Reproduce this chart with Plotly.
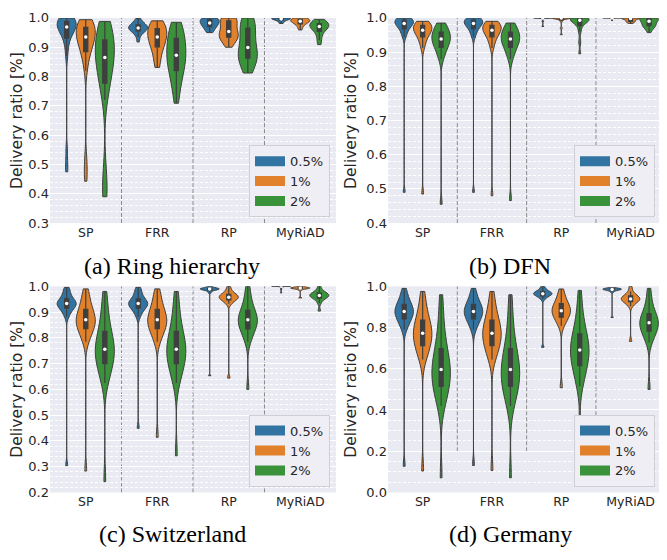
import numpy as np
import plotly.graph_objects as go

categories = ["SP", "FRR", "RP", "MyRiAD"]
hues = ["0.5%", "1%", "2%"]
captions = ["(a) Ring hierarchy", "(b) DFN", "(c) Switzerland", "(d) Germany"]
y_ranges = [[0.3, 1.0], [0.4, 1.0], [0.2, 1.0], [0.0, 1.0]]
y_dticks = [0.1, 0.1, 0.1, 0.2]
y_minor = [0.02, 0.02, 0.02, 0.05]

# ---- (a) Ring hierarchy: samples per method [SP, FRR, RP, MyRiAD] ----
ring_05 = [
    [1.0, 1.0, 0.998, 0.995, 0.992, 0.99, 0.988, 0.985, 0.98, 0.977, 0.974, 0.971, 0.969, 0.965, 0.96, 0.955, 0.95, 0.945, 0.935, 0.92, 0.9, 0.87, 0.55, 0.5, 0.475],
    [0.998, 0.99, 0.985, 0.98, 0.977, 0.975, 0.972, 0.97, 0.968, 0.966, 0.964, 0.962, 0.96, 0.957, 0.955, 0.95, 0.945, 0.935, 0.918],
    [1.0, 1.0, 0.998, 0.996, 0.993, 0.99, 0.987, 0.984, 0.981, 0.978, 0.975, 0.972, 0.968, 0.962, 0.955, 0.95],
    [1.0, 1.0, 1.0, 0.999, 0.998, 0.997, 0.996, 0.995, 0.993, 0.99, 0.986, 0.981],
]
ring_1 = [
    [0.994, 0.99, 0.985, 0.98, 0.975, 0.97, 0.968, 0.963, 0.958, 0.952, 0.946, 0.94, 0.937, 0.932, 0.925, 0.918, 0.91, 0.9, 0.895, 0.885, 0.87, 0.85, 0.82, 0.52, 0.48, 0.443],
    [0.99, 0.988, 0.98, 0.975, 0.97, 0.965, 0.96, 0.955, 0.95, 0.945, 0.94, 0.935, 0.93, 0.925, 0.92, 0.91, 0.905, 0.9, 0.89, 0.875, 0.86, 0.845, 0.831],
    [1.0, 1.0, 0.998, 0.995, 0.99, 0.985, 0.975, 0.965, 0.957, 0.95, 0.945, 0.94, 0.937, 0.934, 0.93, 0.925, 0.915, 0.9],
    [1.0, 0.998, 0.996, 0.993, 0.991, 0.99, 0.988, 0.985, 0.982, 0.978, 0.97, 0.959],
]
ring_2 = [
    [0.988, 0.98, 0.97, 0.96, 0.95, 0.94, 0.93, 0.92, 0.91, 0.9, 0.895, 0.885, 0.875, 0.87, 0.86, 0.85, 0.84, 0.83, 0.815, 0.8, 0.785, 0.77, 0.75, 0.72, 0.48, 0.43, 0.4, 0.39],
    [0.985, 0.975, 0.965, 0.955, 0.945, 0.935, 0.925, 0.915, 0.905, 0.895, 0.885, 0.875, 0.87, 0.865, 0.855, 0.845, 0.835, 0.825, 0.815, 0.8, 0.785, 0.765, 0.74, 0.709],
    [1.0, 0.998, 0.99, 0.98, 0.97, 0.96, 0.95, 0.935, 0.92, 0.905, 0.893, 0.885, 0.878, 0.872, 0.866, 0.86, 0.852, 0.842, 0.828, 0.812],
    [0.995, 0.99, 0.986, 0.982, 0.978, 0.975, 0.973, 0.971, 0.968, 0.964, 0.96, 0.952, 0.94, 0.925, 0.909],
]

# ---- (b) DFN ----
dfn_05 = [
    [1.0, 1.0, 0.998, 0.995, 0.993, 0.99, 0.988, 0.986, 0.984, 0.981, 0.978, 0.975, 0.97, 0.963, 0.955, 0.945, 0.49],
    [1.0, 1.0, 0.998, 0.995, 0.993, 0.99, 0.988, 0.986, 0.984, 0.981, 0.978, 0.975, 0.97, 0.963, 0.955, 0.945, 0.49],
    [1.0, 1.0, 1.0, 1.0, 1.0, 1.0, 1.0, 1.0, 0.999, 0.998, 0.99, 0.975],
    [1.0, 1.0, 1.0, 1.0, 1.0, 1.0, 1.0, 1.0, 1.0, 1.0, 0.999, 0.997, 0.993],
]
dfn_1 = [
    [0.99, 0.988, 0.985, 0.982, 0.979, 0.976, 0.973, 0.97, 0.967, 0.964, 0.961, 0.958, 0.955, 0.95, 0.943, 0.935, 0.925, 0.912, 0.485],
    [0.99, 0.988, 0.985, 0.982, 0.979, 0.976, 0.973, 0.97, 0.967, 0.964, 0.961, 0.958, 0.955, 0.95, 0.943, 0.935, 0.925, 0.912, 0.48],
    [1.0, 1.0, 1.0, 1.0, 1.0, 1.0, 1.0, 0.999, 0.998, 0.996, 0.99, 0.97, 0.951],
    [1.0, 1.0, 1.0, 1.0, 1.0, 1.0, 0.999, 0.998, 0.996, 0.992, 0.99, 0.989, 0.988, 0.984],
]
dfn_2 = [
    [0.985, 0.978, 0.972, 0.966, 0.96, 0.955, 0.95, 0.945, 0.941, 0.938, 0.935, 0.93, 0.925, 0.92, 0.912, 0.903, 0.893, 0.88, 0.455],
    [0.985, 0.978, 0.972, 0.966, 0.96, 0.955, 0.95, 0.945, 0.941, 0.938, 0.935, 0.93, 0.925, 0.92, 0.912, 0.903, 0.893, 0.88, 0.466],
    [1.0, 1.0, 1.0, 0.999, 0.998, 0.997, 0.995, 0.993, 0.99, 0.988, 0.985, 0.975, 0.96, 0.93, 0.895],
    [1.0, 1.0, 1.0, 0.999, 0.998, 0.997, 0.995, 0.99, 0.985, 0.98, 0.978, 0.977, 0.975, 0.968, 0.957],
]

# ---- (c) Switzerland ----
swiss_05 = [
    [0.996, 0.985, 0.975, 0.965, 0.955, 0.948, 0.944, 0.94, 0.937, 0.934, 0.932, 0.929, 0.926, 0.922, 0.918, 0.912, 0.904, 0.895, 0.882, 0.304],
    [0.996, 0.985, 0.975, 0.965, 0.955, 0.948, 0.944, 0.94, 0.937, 0.934, 0.932, 0.929, 0.926, 0.922, 0.918, 0.912, 0.904, 0.895, 0.882, 0.449],
    [1.0, 0.996, 0.993, 0.992, 0.991, 0.99, 0.99, 0.989, 0.988, 0.987, 0.985, 0.982, 0.975, 0.653],
    [1.0, 1.0, 1.0, 1.0, 1.0, 1.0, 1.0, 1.0, 1.0, 1.0, 0.999, 0.998, 0.99, 0.975],
]
swiss_1 = [
    [0.99, 0.97, 0.95, 0.935, 0.92, 0.908, 0.898, 0.89, 0.882, 0.875, 0.87, 0.865, 0.858, 0.852, 0.845, 0.838, 0.828, 0.815, 0.8, 0.785, 0.283],
    [0.99, 0.97, 0.95, 0.935, 0.92, 0.908, 0.898, 0.89, 0.882, 0.875, 0.87, 0.865, 0.858, 0.852, 0.845, 0.838, 0.828, 0.815, 0.8, 0.785, 0.414],
    [1.0, 0.985, 0.975, 0.97, 0.966, 0.963, 0.96, 0.958, 0.956, 0.953, 0.95, 0.946, 0.94, 0.932, 0.644],
    [1.0, 0.998, 0.996, 0.995, 0.994, 0.993, 0.993, 0.992, 0.991, 0.99, 0.985, 0.955],
]
swiss_2 = [
    [0.98, 0.94, 0.9, 0.87, 0.845, 0.825, 0.808, 0.795, 0.782, 0.77, 0.76, 0.752, 0.744, 0.735, 0.725, 0.713, 0.7, 0.685, 0.668, 0.648, 0.625, 0.242],
    [0.98, 0.94, 0.9, 0.87, 0.845, 0.825, 0.808, 0.795, 0.782, 0.77, 0.76, 0.752, 0.744, 0.735, 0.725, 0.713, 0.7, 0.685, 0.668, 0.648, 0.625, 0.342],
    [1.0, 0.97, 0.945, 0.925, 0.91, 0.9, 0.89, 0.882, 0.875, 0.87, 0.865, 0.858, 0.85, 0.842, 0.832, 0.82, 0.805, 0.785, 0.6],
    [1.0, 0.985, 0.978, 0.974, 0.971, 0.968, 0.966, 0.964, 0.962, 0.96, 0.957, 0.953, 0.947, 0.935, 0.904],
]

# ---- (d) Germany ----
germany_05 = [
    [0.99, 0.965, 0.945, 0.93, 0.918, 0.908, 0.9, 0.893, 0.886, 0.88, 0.875, 0.869, 0.862, 0.855, 0.847, 0.837, 0.825, 0.81, 0.79, 0.127],
    [0.99, 0.965, 0.945, 0.93, 0.918, 0.908, 0.9, 0.893, 0.886, 0.88, 0.875, 0.869, 0.862, 0.855, 0.847, 0.837, 0.825, 0.81, 0.79, 0.131],
    [1.0, 0.988, 0.98, 0.975, 0.971, 0.968, 0.966, 0.964, 0.962, 0.96, 0.957, 0.953, 0.947, 0.938, 0.704],
    [0.993, 0.99, 0.989, 0.988, 0.987, 0.986, 0.985, 0.984, 0.983, 0.981, 0.978, 0.972, 0.849],
]
germany_1 = [
    [0.975, 0.93, 0.895, 0.865, 0.845, 0.828, 0.812, 0.8, 0.788, 0.777, 0.768, 0.758, 0.747, 0.735, 0.72, 0.705, 0.688, 0.668, 0.645, 0.104],
    [0.975, 0.93, 0.895, 0.865, 0.845, 0.828, 0.812, 0.8, 0.788, 0.777, 0.768, 0.758, 0.747, 0.735, 0.72, 0.705, 0.688, 0.668, 0.645, 0.107],
    [0.987, 0.96, 0.94, 0.925, 0.913, 0.903, 0.895, 0.888, 0.882, 0.876, 0.87, 0.862, 0.853, 0.842, 0.827, 0.808, 0.508],
    [1.0, 0.975, 0.962, 0.955, 0.95, 0.946, 0.942, 0.939, 0.936, 0.933, 0.929, 0.924, 0.917, 0.905, 0.733],
]
germany_2 = [
    [0.959, 0.88, 0.81, 0.76, 0.72, 0.69, 0.665, 0.645, 0.627, 0.61, 0.596, 0.582, 0.567, 0.552, 0.537, 0.52, 0.5, 0.478, 0.452, 0.42, 0.071],
    [0.959, 0.88, 0.81, 0.76, 0.72, 0.69, 0.665, 0.645, 0.627, 0.61, 0.596, 0.582, 0.567, 0.552, 0.537, 0.52, 0.5, 0.478, 0.452, 0.42, 0.071],
    [0.98, 0.9, 0.85, 0.81, 0.78, 0.76, 0.742, 0.725, 0.71, 0.698, 0.685, 0.672, 0.658, 0.642, 0.625, 0.605, 0.58, 0.55, 0.515, 0.288],
    [0.99, 0.945, 0.91, 0.885, 0.868, 0.855, 0.845, 0.835, 0.827, 0.82, 0.812, 0.803, 0.793, 0.782, 0.768, 0.75, 0.728, 0.5],
]

panels = [
    [ring_05, ring_1, ring_2],
    [dfn_05, dfn_1, dfn_2],
    [swiss_05, swiss_1, swiss_2],
    [germany_05, germany_1, germany_2],
]

# ---- styling / layout ----
# the page body adds an 8px margin on every side; keep the page exactly 667x560
OFF = 8
W, H = 667 - 2 * OFF, 560 - 2 * OFF
colors = ["#3274A1", "#E1812C", "#3A923A"]
edge = "#3F3F3F"
txt = "#262626"
vw = 0.8 / 3
# subplot pixel boxes on the page: (left, right, top, bottom)
boxes = [(50, 336, 11, 222), (388, 659, 11, 222), (50, 336, 287, 499), (388, 659, 287, 499)]
x_upper = [3.5, 3.41, 3.5, 3.41]
legend_right = [330, 655, 330, 655]
cap_pos = [(172, 266), (510, 266), (172, 542), (510, 542)]


def px(v):
    return (v - OFF) / W


def py(v):
    return 1 - (v - OFF) / H


fig = go.Figure()
layout = dict(
    width=W, height=H, margin=dict(l=0, r=0, t=0, b=0),
    paper_bgcolor="white", plot_bgcolor="#EAEAF2",
    font=dict(family="DejaVu Sans", color=txt),
    showlegend=True, shapes=[], annotations=[],
    violingap=0, violingroupgap=0,
)

for p in range(4):
    sfx = "" if p == 0 else str(p + 1)
    xa, ya = "x" + sfx, "y" + sfx
    leg = "legend" if p == 0 else "legend" + str(p + 1)
    l, r, t, b = boxes[p]
    for j in range(3):
        mx, my = [], []
        for i, samples in enumerate(panels[p][j]):
            pos = i + (j - 1) * vw
            mx.append(pos)
            my.append(float(np.median(samples)))
            fig.add_trace(go.Violin(
                x=[pos] * len(samples), y=samples, xaxis=xa, yaxis=ya,
                name=hues[j], showlegend=False, fillcolor=colors[j], opacity=1,
                line=dict(color=edge, width=1), width=vw, spanmode="hard",
                points=False, scalemode="width",
                box=dict(visible=True, width=0.22, fillcolor=edge,
                         line=dict(color=edge, width=1.2)),
                meanline=dict(visible=False), hoverinfo="skip",
            ))
        fig.add_trace(go.Scatter(
            x=mx, y=my, xaxis=xa, yaxis=ya, mode="markers", showlegend=False,
            marker=dict(color="white", size=3.5, line=dict(width=0)), hoverinfo="skip",
        ))
        # legend entry (colour patch)
        fig.add_trace(go.Scatter(
            x=[None], y=[None], xaxis=xa, yaxis=ya, mode="lines", name=hues[j],
            legend=leg, showlegend=True, line=dict(color=colors[j], width=12),
            hoverinfo="skip",
        ))
    layout["xaxis" + sfx] = dict(
        domain=[px(l), min(1.0, px(r))], anchor=ya, range=[-0.5, x_upper[p]],
        tickvals=[0, 1, 2, 3], ticktext=categories, showgrid=False, zeroline=False,
        showline=False, ticks="", tickfont=dict(size=12.5, color=txt),
    )
    layout["yaxis" + sfx] = dict(
        domain=[py(b), py(t)], anchor=xa, range=y_ranges[p],
        dtick=y_dticks[p], tick0=0, tickformat=".1f", showgrid=True,
        gridcolor="white", gridwidth=1.2, zeroline=False, showline=False, ticks="",
        tickfont=dict(size=13, color=txt),
        minor=dict(dtick=y_minor[p], tick0=0, showgrid=True, gridcolor="white",
                   gridwidth=0.8, griddash="3px,2px"),
        title=dict(text="Delivery ratio [%]", font=dict(size=15.5, color=txt), standoff=5),
    )
    layout[leg] = dict(
        x=px(legend_right[p]), y=py(b - 6), xanchor="right", yanchor="bottom",
        bgcolor="#EEEEF4", bordercolor="#CFCFD6", borderwidth=1,
        font=dict(size=13, color=txt), tracegroupgap=0, itemwidth=30,
    )
    for k in range(3):
        layout["shapes"].append(dict(
            type="line", xref=xa, yref=ya, x0=k + 0.5, x1=k + 0.5,
            y0=max(0.2, y_ranges[p][0]), y1=1.0, layer="below",
            line=dict(color="#8C8C8C", width=1, dash="4px,2px"),
        ))
    cx, cy = cap_pos[p]
    layout["annotations"].append(dict(
        text=captions[p], xref="paper", yref="paper", x=px(cx), y=py(cy),
        xanchor="center", yanchor="middle", showarrow=False,
        font=dict(family="Liberation Serif", size=24, color="black"),
    ))

fig.update_layout(**layout)
fig.write_html("out.html")
